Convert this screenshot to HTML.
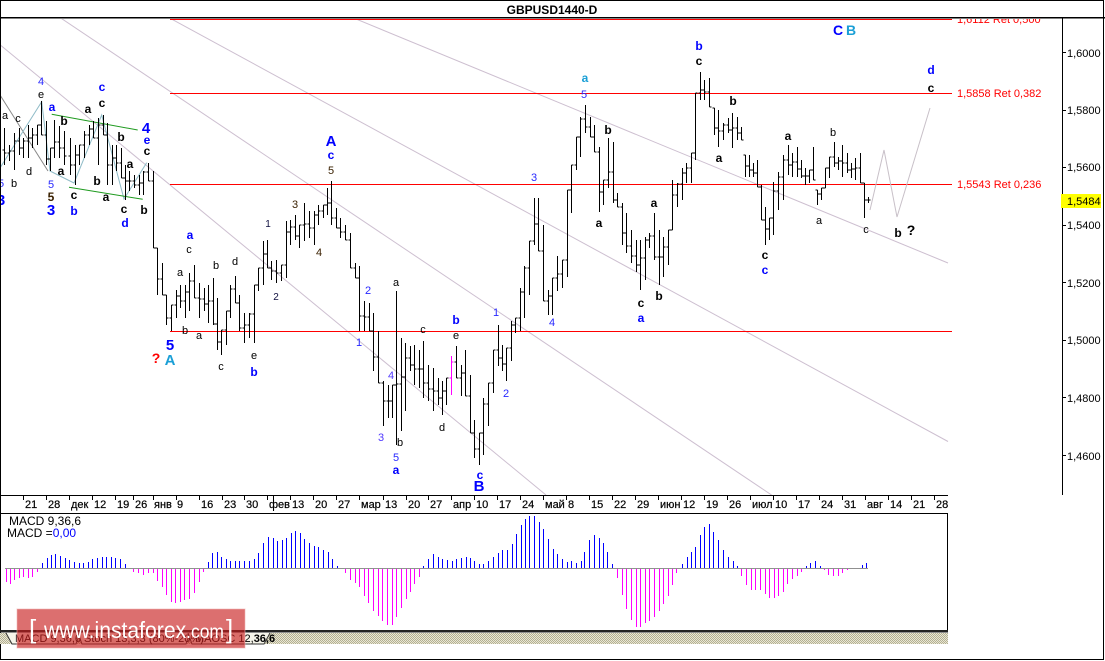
<!DOCTYPE html>
<html><head><meta charset="utf-8"><style>
html,body{margin:0;padding:0;background:#fff}
svg{display:block}
text{font-family:"Liberation Sans",sans-serif}
.k{font-size:11px;fill:#000;text-anchor:middle}
.kb{font-size:12px;font-weight:bold;fill:#000;text-anchor:middle}
.bb{font-size:12px;font-weight:bold;fill:#0000ff;text-anchor:middle}
.bn{font-size:11px;fill:#2828ff;text-anchor:middle}
.bp{font-size:11px;fill:#5038ff;text-anchor:middle}
.bL{font-size:15px;font-weight:bold;fill:#0000ff;text-anchor:middle}
.cy{font-size:12px;font-weight:bold;fill:#1a9fd6;text-anchor:middle}
.cyL{font-size:15px;font-weight:bold;fill:#1a9fd6;text-anchor:middle}
.br{font-size:11px;fill:#3a2000;text-anchor:middle}
.nv{font-size:10px;fill:#101040;text-anchor:middle}
.rq{font-size:14px;font-weight:bold;fill:#ff0000;text-anchor:middle}
.ax{font-size:11px;fill:#000}
.rl{font-size:11px;fill:#ff0000}
.tl{font-size:11px;fill:#000;stroke:#000;stroke-width:0.2}
</style></head><body>
<svg width="1105" height="661" viewBox="0 0 1105 661" xmlns="http://www.w3.org/2000/svg">
<defs>
<clipPath id="ch"><rect x="0" y="19" width="1062" height="476"/></clipPath>
<pattern id="hat" width="2" height="2" patternUnits="userSpaceOnUse"><rect width="2" height="2" fill="#e8e6d6"/><rect width="1" height="1" fill="#b4b090"/><rect x="1" y="1" width="1" height="1" fill="#b4b090"/></pattern>
</defs>
<rect width="1105" height="661" fill="#fff"/>
<!-- title -->
<text x="552" y="14" style="font-size:12px;font-weight:bold;fill:#000;text-anchor:middle">GBPUSD1440-D</text>

<g clip-path="url(#ch)">
<!-- diagonal channel lines -->
<g stroke="#cdbfd0" stroke-width="1" fill="none">
<line x1="0" y1="44.7" x2="546" y2="495"/>
<line x1="60.7" y1="18" x2="771.6" y2="495"/>
<line x1="169.6" y1="18" x2="948" y2="441.5"/>
<line x1="353.6" y1="18" x2="948" y2="263"/>
</g>
<line x1="0" y1="95" x2="48" y2="171" stroke="#888" stroke-width="1"/>
<polyline points="0,168 41.7,101.7 50,171 74,183 101.7,115 124,199 146.7,162.7" fill="none" stroke="#90bcc8" stroke-width="1"/>
<g stroke="#1e9a1e" stroke-width="1">
<line x1="51.7" y1="114.3" x2="137.7" y2="130"/>
<line x1="69" y1="187.3" x2="142.7" y2="199.3"/>
</g>
<!-- red levels -->
<g stroke="#ff0000" stroke-width="1" shape-rendering="crispEdges">
<line x1="170" y1="19.5" x2="952" y2="19.5"/>
<line x1="170" y1="93.5" x2="952" y2="93.5"/>
<line x1="170" y1="184.5" x2="952" y2="184.5"/>
<line x1="170" y1="331.5" x2="952" y2="331.5"/>
</g>
<text x="957" y="23" class="rl">1,6112 Ret 0,500</text>
<text x="957" y="97" class="rl">1,5858 Ret 0,382</text>
<text x="957" y="188" class="rl">1,5543 Ret 0,236</text>
<!-- forecast -->
<polyline points="870,210 884,150 897,217 930,108" fill="none" stroke="#c8c0c8" stroke-width="1"/>
<!-- bars -->
<g transform="translate(0.5,0)" shape-rendering="crispEdges">
<path fill="none" stroke="#000" stroke-width="1" d="M4 128V165M2 150H4M4 153H6M9 145V161M7 153H9M9 151H11M14 133V170M12 151H14M14 141H16M19 128V155M17 141H19M19 148H21M23 138V158M21 148H23M23 141H25M28 125V158M26 141H28M28 138H30M32 128V148M30 138H32M32 135H34M37 125V145M35 135H37M37 125H39M41 101V135M39 125H41M41 135H43M46 121V165M44 135H46M46 159H48M50 148V171M48 159H50M50 148H52M54 120V158M52 148H54M54 142H56M59 126V158M57 142H59M59 148H61M64 131V165M62 148H64M64 156H66M70 138V175M68 156H70M70 165H72M75 145V185M73 165H75M75 155H77M79 145V165M77 155H79M79 145H81M84 131V158M82 145H84M84 135H86M89 125V145M87 135H89M89 129H91M93 121V138M91 129H93M93 138H95M98 118V165M96 138H98M98 125H100M103 115V135M101 125H103M103 135H105M107 123V185M105 135H107M107 165H109M112 145V185M110 165H112M112 158H114M116 145V171M114 158H116M116 163H118M121 148V178M119 163H121M121 178H123M125 165V200M123 178H125M125 181H127M129 171V191M127 181H129M129 181H131M134 175V188M132 181H134M134 185H136M139 175V195M137 185H139M139 183H141M143 171V195M141 183H143M143 172H145M148 163V181M146 172H148M148 181H150M153 171V248M151 181H153M153 248H155M157 248V295M155 248H157M157 279H159M162 263V295M160 279H162M162 295H164M166 295V325M164 295H166M166 318H168M171 305V331M169 318H171M171 305H173M176 290V318M174 305H176M176 296H178M180 285V308M178 296H180M180 301H182M185 285V318M183 301H185M185 292H187M189 273V311M187 292H189M189 281H191M194 265V298M192 281H194M194 298H196M199 283V318M197 298H199M199 299H201M204 288V311M202 299H204M204 304H206M208 285V323M206 304H208M208 301H210M213 278V325M211 301H213M213 324H215M217 298V350M215 324H217M217 342H219M221 330V355M219 342H221M221 330H223M226 311V345M224 330H226M226 311H228M230 285V318M228 311H230M230 289H232M235 276V303M233 289H235M235 303H237M239 295V331M237 303H239M239 328H241M244 313V343M242 328H244M244 325H246M249 313V338M247 325H249M249 314H251M254 285V343M252 314H254M254 285H256M258 268V291M256 285H258M258 268H260M263 241V285M261 268H263M263 254H265M267 240V268M265 254H267M267 268H269M271 261V280M269 268H271M271 271H273M276 260V283M274 271H276M276 273H278M281 265V281M279 273H281M281 265H283M286 221V278M284 265H286M286 232H288M290 220V245M288 232H290M290 227H292M295 215V240M293 227H295M295 236H297M299 225V248M297 236H299M299 225H301M304 203V241M302 225H304M304 224H306M309 211V238M307 224H309M309 228H311M314 211V245M312 228H314M314 215H316M318 205V225M316 215H318M318 211H320M323 205V218M321 211H323M323 205H325M327 188V215M325 205H327M327 203H329M331 181V225M329 203H331M331 218H333M336 208V228M334 218H336M336 228H338M340 218V238M338 228H340M340 232H342M345 225V240M343 232H345M345 240H347M350 233V268M348 240H350M350 268H352M355 263V278M353 268H355M355 278H357M359 266V331M357 278H359M359 316H361M364 301V331M362 316H364M364 317H366M369 303V331M367 317H369M369 331H371M373 313V371M371 331H373M373 357H375M378 331V383M376 357H378M378 383H380M383 381V426M381 383H383M383 401H385M388 385V418M386 401H388M388 401H390M392 385V418M390 401H392M392 385H394M396 291V445M394 385H396M396 384H398M401 338V431M399 384H401M401 377H403M405 343V411M403 377H405M405 358H407M410 346V371M408 358H410M410 365H412M414 345V385M412 365H414M414 369H416M419 350V388M417 369H419M419 369H421M423 341V398M421 369H423M423 383H425M428 365V401M426 383H428M428 389H430M433 368V411M431 389H433M433 391H435M438 378V405M436 391H438M438 398H440M442 381V415M440 398H442M442 391H444M446 378V405M444 391H446M446 378H448M456 346V378M454 362H456M456 378H458M461 365V396M459 378H461M461 373H463M465 350V396M463 373H465M465 396H467M470 375V433M468 396H470M470 433H472M474 420V458M472 433H474M474 449H476M479 433V465M477 449H479M479 433H481M483 398V455M481 433H483M483 404H485M488 383V426M486 404H488M488 383H490M493 350V393M491 383H493M493 350H495M498 325V366M496 350H498M498 358H500M502 345V371M500 358H502M502 364H504M506 348V381M504 364H506M506 348H508M511 321V361M509 348H511M511 325H513M515 318V333M513 325H515M515 318H517M520 288V331M518 318H520M520 292H522M524 266V318M522 292H524M524 268H526M529 241V295M527 268H529M529 241H531M534 198V245M532 241H534M534 224H536M538 198V251M536 224H538M538 251H540M543 225V301M541 251H543M543 301H545M548 290V315M546 301H548M548 296H550M552 278V315M550 296H552M552 278H554M557 256V291M555 278H557M557 274H559M562 260V288M560 274H562M562 260H564M567 190V277M565 260H567M567 190H569M571 165V213M569 190H571M571 165H573M576 137V170M574 165H576M576 137H578M580 117V157M578 137H580M580 119H582M585 105V133M583 119H585M585 127H587M590 117V137M588 127H590M590 137H592M594 125V152M592 137H594M594 152H596M599 147V212M597 152H599M599 192H601M603 180V205M601 192H603M603 180H605M608 138V188M606 180H608M608 172H610M613 142V203M611 172H613M613 200H615M617 193V207M615 200H617M617 207H619M622 203V245M620 207H622M622 233H624M626 213V253M624 233H626M626 246H628M631 230V263M629 246H631M631 256H633M636 240V272M634 256H636M636 265H638M640 240V290M638 265H640M640 258H642M645 237V280M643 258H645M645 240H647M649 233V248M647 240H649M649 236H651M654 213V260M652 236H654M654 257H656M659 230V285M657 257H659M659 257H661M663 237V277M661 257H663M663 247H665M668 230V265M666 247H668M668 230H670M672 180V230M670 230H672M672 195H674M677 183V207M675 195H677M677 184H679M682 168V200M680 184H682M682 173H684M686 163V183M684 173H686M686 168H688M691 153V183M689 168H691M691 153H693M695 93V160M693 153H695M695 93H697M700 72V100M698 93H700M700 90H702M704 80V100M702 90H704M704 92H706M709 78V107M707 92H709M709 107H711M714 108V135M712 108H714M714 128H716M718 110V147M716 128H718M718 131H720M723 123V140M721 131H723M723 125H725M728 118V133M726 125H728M728 130H730M732 113V148M730 130H732M732 128H734M737 117V140M735 128H737M737 133H739M741 127V140M739 133H741M741 140H743M745 155V177M743 155H745M745 166H747M749 155V177M747 166H749M749 170H751M753 163V177M751 170H753M753 173H755M757 160V187M755 173H757M757 187H759M761 185V220M759 187H761M761 220H763M765 207V245M763 220H765M765 229H767M769 218V240M767 229H769M769 218H771M773 182V235M771 218H773M773 191H775M778 172V210M776 191H778M778 177H780M783 155V200M781 177H783M783 160H785M788 145V175M786 160H788M788 165H790M792 153V177M790 165H792M792 162H794M797 147V177M795 162H797M797 169H799M801 160V178M799 169H801M801 176H803M805 168V185M803 176H805M805 176H807M809 170V183M807 176H809M809 170H811M813 147V180M811 170H813M813 180H815M817 190V205M815 190H817M817 194H819M821 188V200M819 194H821M821 188H823M825 168V188M823 188H825M825 168H827M829 157V178M827 168H829M829 157H831M834 142V167M832 157H834M834 163H836M838 157V170M836 163H838M838 161H840M842 145V177M840 161H842M842 163H844M847 153V173M845 163H847M847 170H849M851 163V178M849 170H851M851 169H853M855 158V180M853 169H855M855 168H857M860 153V183M858 168H860M860 183H862M864 183V218M862 183H864M864 200H866M868 197V203M866 200H868M868 200H870"/>
<path fill="none" stroke="#ff00ff" stroke-width="1" d="M451 356V395M449 378H451M451 362H453"/>
</g>

<!-- wave labels -->
<text x="5" y="119" class="k">a</text>
<text x="18" y="122" class="k">c</text>
<text x="14" y="187" class="k">b</text>
<text x="29" y="175" class="k">d</text>
<text x="1" y="187" class="bn">5</text>
<text x="1" y="205" class="bL">3</text>
<text x="41" y="85" class="bn">4</text>
<text x="41" y="98" class="k">e</text>
<text x="52" y="111" class="bb">a</text>
<text x="64" y="125" class="kb">b</text>
<text x="61" y="175" class="kb">a</text>
<text x="51" y="188" class="bn">5</text>
<text x="51" y="201" class="br" style="font-weight:bold;font-size:12px">5</text>
<text x="51" y="215" class="bL">3</text>
<text x="74" y="199" class="kb">c</text>
<text x="74" y="215" class="bb">b</text>
<text x="88" y="113" class="kb">a</text>
<text x="102" y="91" class="bb">c</text>
<text x="102" y="107" class="kb">c</text>
<text x="97" y="185" class="kb">b</text>
<text x="106" y="201" class="kb">a</text>
<text x="121" y="141" class="kb">b</text>
<text x="130" y="168" class="kb">a</text>
<text x="124" y="213" class="kb">c</text>
<text x="125" y="227" class="bb">d</text>
<text x="144" y="214" class="kb">b</text>
<text x="146" y="133" class="bL">4</text>
<text x="147" y="144" class="bb">e</text>
<text x="147" y="155" class="kb">c</text>
<text x="190" y="239" class="bb">a</text>
<text x="189" y="253" class="k">c</text>
<text x="180" y="276" class="k">a</text>
<text x="216" y="269" class="k">b</text>
<text x="235" y="265" class="k">d</text>
<text x="185" y="334" class="k">b</text>
<text x="199" y="339" class="k">a</text>
<text x="170" y="350" class="bL">5</text>
<text x="156" y="363" class="rq">?</text>
<text x="170" y="365" class="cyL">A</text>
<text x="221" y="370" class="k">c</text>
<text x="254" y="359" class="k">e</text>
<text x="254" y="376" class="bb">b</text>
<text x="268" y="227" class="nv">1</text>
<text x="276" y="300" class="nv">2</text>
<text x="295" y="208" class="br">3</text>
<text x="319" y="256" class="br">4</text>
<text x="331" y="146" class="bL">A</text>
<text x="331" y="159" class="bb">c</text>
<text x="331" y="174" class="br">5</text>
<text x="368" y="294" class="bn">2</text>
<text x="359" y="346" class="bn">1</text>
<text x="396" y="286" class="k">a</text>
<text x="391" y="379" class="bp">4</text>
<text x="381" y="441" class="bp">3</text>
<text x="400" y="446" class="k">b</text>
<text x="396" y="461" class="bn">5</text>
<text x="396" y="474" class="bb">a</text>
<text x="423" y="333" class="k">c</text>
<text x="442" y="431" class="k">d</text>
<text x="456" y="324" class="bb">b</text>
<text x="456" y="339" class="k">e</text>
<text x="480" y="479" class="bb">c</text>
<text x="479" y="491" class="bL">B</text>
<text x="496" y="316" class="bn">1</text>
<text x="506" y="397" class="bn">2</text>
<text x="534" y="181" class="bn">3</text>
<text x="552" y="326" class="bn">4</text>
<text x="585" y="82" class="cy">a</text>
<text x="584" y="98" class="bn">5</text>
<text x="608" y="134" class="kb">b</text>
<text x="599" y="227" class="kb">a</text>
<text x="654" y="207" class="kb">a</text>
<text x="641" y="307" class="kb">c</text>
<text x="641" y="322" class="bb">a</text>
<text x="659" y="300" class="kb">b</text>
<text x="699" y="50" class="bb">b</text>
<text x="699" y="65" class="kb">c</text>
<text x="733" y="105" class="kb">b</text>
<text x="719" y="162" class="kb">a</text>
<text x="765" y="259" class="kb">c</text>
<text x="765" y="274" class="bb">c</text>
<text x="788" y="140" class="kb">a</text>
<text x="833" y="136" class="k">b</text>
<text x="819" y="224" class="k">a</text>
<text x="866" y="233" class="k">c</text>
<text x="898" y="237" class="kb">b</text>
<text x="911" y="235" class="kb" style="font-size:14px">?</text>
<text x="838" y="35" class="bL" style="font-size:14px">C</text>
<text x="851" y="35" class="cyL" style="font-size:14px">B</text>
<text x="931" y="74" class="bb">d</text>
<text x="931" y="92" class="kb">c</text>
</g>

<!-- frame -->
<g shape-rendering="crispEdges">
<rect x="0.5" y="0.5" width="1103" height="659" fill="none" stroke="#000"/>
<rect x="0" y="17" width="1105" height="1.6" fill="#000"/>
<line x1="1062.5" y1="18" x2="1062.5" y2="495" stroke="#000"/>
<line x1="0" y1="495.5" x2="948" y2="495.5" stroke="#000"/>
<line x1="0" y1="513.5" x2="948" y2="513.5" stroke="#000"/>
<line x1="947.5" y1="513" x2="947.5" y2="632" stroke="#000"/>
<rect x="0" y="630" width="948" height="2.5" fill="#222"/>
</g>
<!-- price axis -->
<g stroke="#000" shape-rendering="crispEdges">
<line x1="1062" y1="52.5" x2="1066" y2="52.5"/>
<line x1="1062" y1="110.5" x2="1066" y2="110.5"/>
<line x1="1062" y1="167.5" x2="1066" y2="167.5"/>
<line x1="1062" y1="225.5" x2="1066" y2="225.5"/>
<line x1="1062" y1="282.5" x2="1066" y2="282.5"/>
<line x1="1062" y1="340.5" x2="1066" y2="340.5"/>
<line x1="1062" y1="397.5" x2="1066" y2="397.5"/>
<line x1="1062" y1="455.5" x2="1066" y2="455.5"/>
</g>
<text x="1067" y="57" class="ax">1,6000</text>
<text x="1067" y="114" class="ax">1,5800</text>
<text x="1067" y="171" class="ax">1,5600</text>
<text x="1067" y="229" class="ax">1,5400</text>
<text x="1067" y="287" class="ax">1,5200</text>
<text x="1067" y="344" class="ax">1,5000</text>
<text x="1067" y="402" class="ax">1,4800</text>
<text x="1067" y="460" class="ax">1,4600</text>
<rect x="1061" y="194" width="40" height="14" fill="#ffff00"/>
<text x="1067" y="205" class="ax">1,5484</text>

<!-- time axis -->
<path stroke="#000" shape-rendering="crispEdges" d="M23.5 495V500M46.5 495V500M69.5 495V500M92.5 495V500M115.5 495V500M133.5 495V500M153.5 495V500M176.5 495V500M199.5 495V500M222.5 495V500M244.5 495V500M267.5 495V500M273.5 495V511M290.5 495V500M313.5 495V500M336.5 495V500M359.5 495V500M383.5 495V500M406.5 495V500M428.5 495V500M451.5 495V500M474.5 495V500M497.5 495V500M520.5 495V500M543.5 495V500M566.5 495V500M589.5 495V500M612.5 495V500M635.5 495V500M658.5 495V500M681.5 495V500M704.5 495V500M727.5 495V500M750.5 495V500M773.5 495V500M796.5 495V500M819.5 495V500M842.5 495V500M865.5 495V500M888.5 495V500M911.5 495V500M934.5 495V500"/>
<g>
<text x="25" y="508" class="tl">21</text>
<text x="48" y="508" class="tl">28</text>
<text x="71" y="508" class="tl">дек</text>
<text x="94" y="508" class="tl">12</text>
<text x="117" y="508" class="tl">19</text>
<text x="135" y="508" class="tl">26</text>
<text x="154" y="508" class="tl">янв</text>
<text x="177" y="508" class="tl">9</text>
<text x="201" y="508" class="tl">16</text>
<text x="224" y="508" class="tl">23</text>
<text x="246" y="508" class="tl">30</text>
<text x="269" y="508" class="tl">фев</text>
<text x="292" y="508" class="tl">13</text>
<text x="315" y="508" class="tl">20</text>
<text x="338" y="508" class="tl">27</text>
<text x="361" y="508" class="tl">мар</text>
<text x="385" y="508" class="tl">13</text>
<text x="408" y="508" class="tl">20</text>
<text x="430" y="508" class="tl">27</text>
<text x="453" y="508" class="tl">апр</text>
<text x="476" y="508" class="tl">10</text>
<text x="499" y="508" class="tl">17</text>
<text x="522" y="508" class="tl">24</text>
<text x="545" y="508" class="tl">май</text>
<text x="568" y="508" class="tl">8</text>
<text x="591" y="508" class="tl">15</text>
<text x="614" y="508" class="tl">22</text>
<text x="637" y="508" class="tl">29</text>
<text x="660" y="508" class="tl">июн</text>
<text x="683" y="508" class="tl">12</text>
<text x="706" y="508" class="tl">19</text>
<text x="729" y="508" class="tl">26</text>
<text x="752" y="508" class="tl">июл</text>
<text x="775" y="508" class="tl">10</text>
<text x="798" y="508" class="tl">17</text>
<text x="821" y="508" class="tl">24</text>
<text x="844" y="508" class="tl">31</text>
<text x="867" y="508" class="tl">авг</text>
<text x="890" y="508" class="tl">14</text>
<text x="913" y="508" class="tl">21</text>
<text x="936" y="508" class="tl">28</text>
</g>

<!-- MACD -->
<text x="9" y="525" style="font-size:12px;fill:#000">MACD 9,36,6</text>
<text x="7" y="537" style="font-size:12px;fill:#000">MACD =<tspan fill="#0000ff">0,00</tspan></text>
<line x1="5" y1="568.5" x2="868" y2="568.5" stroke="#909090" shape-rendering="crispEdges"/>
<g transform="translate(0.5,0)" shape-rendering="crispEdges" fill="none">
<path stroke="#0000ff" d="M42 568V563M47 568V558M51 568V555M55 568V554M60 568V556M65 568V558M69 568V560M74 568V562M79 568V563M83 568V563M88 568V562M92 568V559M97 568V558M102 568V557M106 568V557M111 568V557M115 568V558M120 568V559M125 568V564M208 568V562M212 568V553M217 568V552M221 568V557M226 568V559M230 568V561M235 568V561M239 568V561M244 568V561M249 568V561M254 568V559M258 568V553M263 568V543M268 568V537M273 568V538M277 568V541M282 568V540M286 568V538M291 568V533M295 568V531M300 568V533M304 568V539M309 568V543M314 568V546M318 568V547M323 568V550M328 568V552M332 568V559M337 568V566M423 568V566M428 568V559M433 568V554M438 568V557M442 568V559M447 568V560M452 568V561M456 568V559M461 568V558M466 568V557M470 568V558M474 568V561M479 568V564M483 568V564M488 568V561M493 568V557M498 568V553M502 568V550M507 568V550M512 568V544M516 568V534M521 568V525M525 568V519M529 568V516M534 568V516M539 568V522M543 568V529M548 568V539M553 568V549M557 568V554M562 568V559M567 568V562M571 568V561M576 568V563M581 568V561M584 568V552M589 568V540M594 568V535M599 568V538M603 568V543M607 568V552M612 568V564M682 568V564M687 568V557M691 568V552M695 568V547M700 568V535M704 568V527M709 568V524M713 568V532M718 568V540M723 568V550M728 568V557M733 568V561M737 568V566M806 568V566M810 568V563M815 568V561M820 568V566M862 568V565M866 568V563"/>
<path stroke="#ff00ff" d="M6 569V582M10 569V584M14 569V580M19 569V578M23 569V577M28 569V578M32 569V577M37 569V572M133 569V572M138 569V573M143 569V575M148 569V573M153 569V573M157 569V581M162 569V587M166 569V595M171 569V602M175 569V603M180 569V602M184 569V600M189 569V599M194 569V593M199 569V582M203 569V572M345 569V573M350 569V580M355 569V583M359 569V587M364 569V596M368 569V603M373 569V611M378 569V616M382 569V621M387 569V625M392 569V625M396 569V617M401 569V608M406 569V599M410 569V592M414 569V584M419 569V577M617 569V578M622 569V595M626 569V609M631 569V620M636 569V627M640 569V627M645 569V623M649 569V621M654 569V617M659 569V611M663 569V604M668 569V596M672 569V585M676 569V573M741 569V576M746 569V585M751 569V590M755 569V590M760 569V590M765 569V594M769 569V598M774 569V598M778 569V596M783 569V592M787 569V584M792 569V579M797 569V576M801 569V572M824 569V570M828 569V575M833 569V576M838 569V576M842 569V573M847 569V570M852 569V569"/>
</g>

<!-- tab bar -->
<rect x="0" y="633" width="948" height="11" fill="url(#hat)"/>
<g stroke="#333" stroke-width="1" fill="#f6f5ea">
<path d="M6 633 L12 644 L76 644 L80 633"/>
<path d="M78 633 L82 644 L186 644 L190 633"/>
<path d="M188 633 L192 644 L264 644 L270 633"/>
</g>
<text x="15" y="642" style="font-size:11px;fill:#000">MACD 9,36,6</text>
<text x="84" y="642" style="font-size:11px;fill:#000">Stoch 13,3,3 (80%-20%)</text>
<text x="195" y="642" style="font-size:11px;fill:#000">MAOSC 12,<tspan font-weight="bold">36,6</tspan></text>

<!-- watermark -->
<rect x="17" y="609" width="228" height="39" fill="rgb(200,30,30)" fill-opacity="0.64" stroke="#f0b0b0" stroke-opacity="0.6"/>
<text x="29" y="638" style="font-size:26px;fill:#fff">[</text>
<text x="44" y="638" style="font-size:23px;fill:#fff" textLength="180" lengthAdjust="spacingAndGlyphs">www.instaforex<tspan style="font-size:19px">.com</tspan></text>
<text x="226" y="638" style="font-size:26px;fill:#fff">]</text>
</svg>
</body></html>
